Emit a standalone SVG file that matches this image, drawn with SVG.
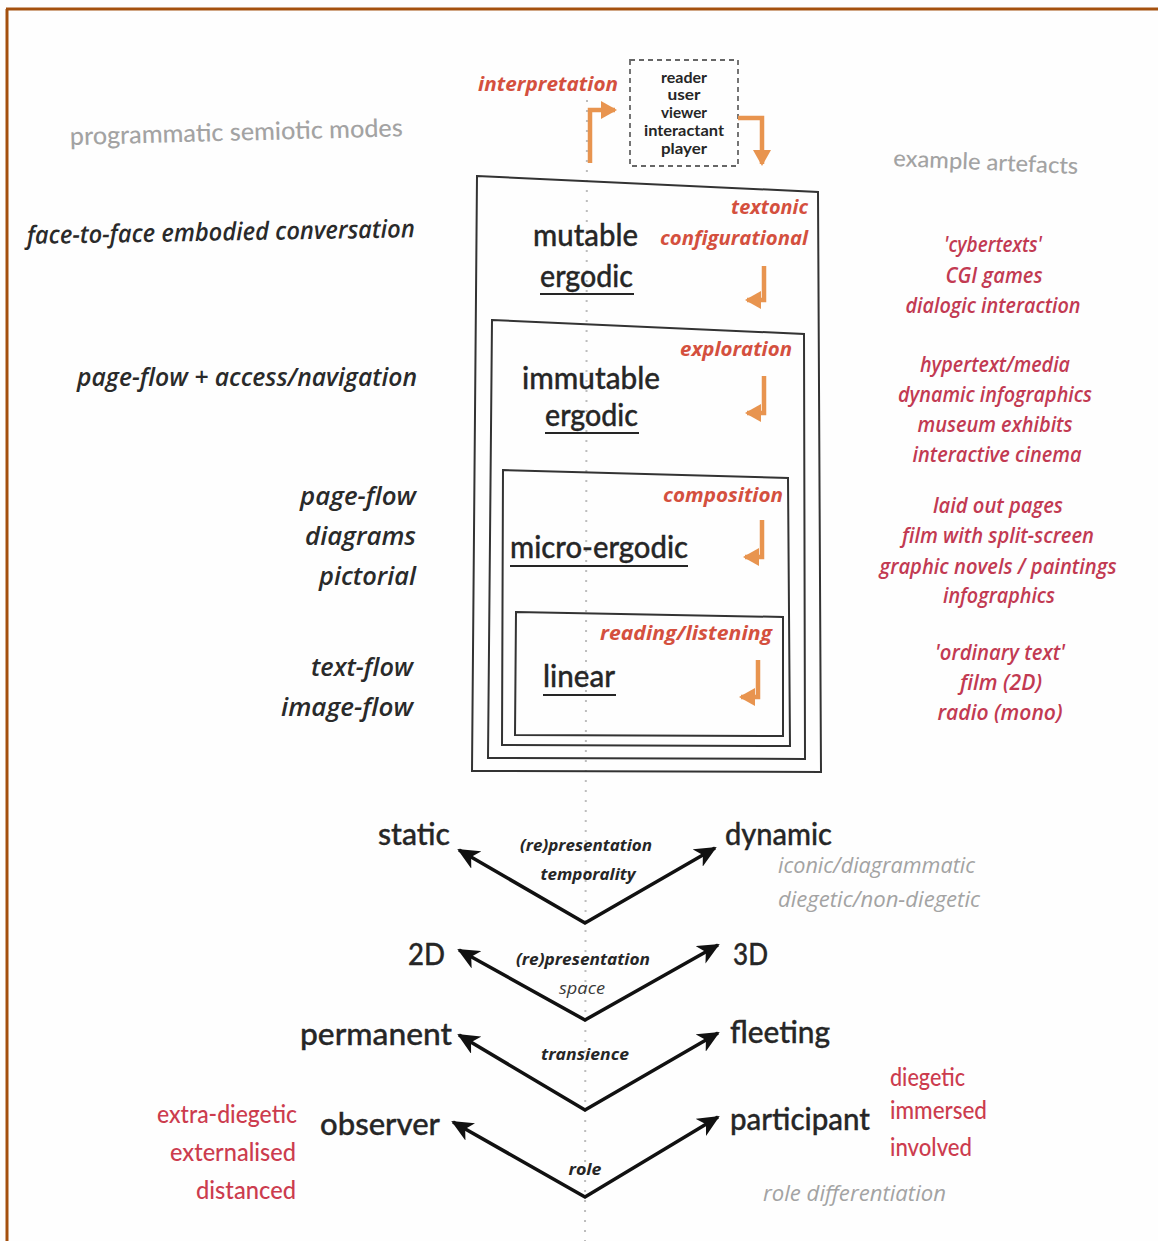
<svg xmlns="http://www.w3.org/2000/svg" width="1158" height="1241" viewBox="0 0 1158 1241">
  <defs>
    <style>
      .up { font-family: Lato, "Open Sans", "Liberation Sans", sans-serif; fill: #262626; font-weight: 500; }
      .big { font-size: 31px; stroke: #262626; stroke-width: 0.35; }
      .it { font-family: "Open Sans", "Noto Sans", "Liberation Sans", sans-serif; font-style: italic; }
      .lbl { fill: #2a2a2a; font-size: 25px; font-weight: 600; }
      .proc { fill: #d4503e; font-size: 20px; font-weight: bold; }
      .ex { fill: #c23a52; font-size: 21px; font-weight: 600; }
      .grey { fill: #a3a3a3; }
      .crim { fill: #cc3c4e; font-size: 24px; }
      .dim { font-size: 16px; font-weight: bold; fill: #262626; }
      .who { font-size: 16px; font-weight: bold; }
      .box { fill: none; stroke: #333; stroke-width: 2; }
      .ul { stroke: #262626; stroke-width: 2; }
      .orange { fill: none; stroke: #e8944f; stroke-width: 4.5; }
      .axis { fill: none; stroke: #111; stroke-width: 3.5; stroke-linejoin: miter; }
    </style>
    <marker id="head" markerUnits="userSpaceOnUse" markerWidth="22" markerHeight="20" viewBox="0 0 22 20" refX="20" refY="10" orient="auto-start-reverse">
      <path d="M0,0 L22,10 L0,20 L6,10 z" fill="#111"/>
    </marker>
    <marker id="ohead" markerUnits="userSpaceOnUse" markerWidth="16" markerHeight="18" viewBox="0 0 16 18" refX="14" refY="9" orient="auto">
      <path d="M0,0 L16,9 L0,18 z" fill="#e8944f"/>
    </marker>
  </defs>

  <rect width="1158" height="1241" fill="#fefefe"/>
  <!-- page frame -->
  <path d="M6,9 H1158 M7,9 V1241" fill="none" stroke="#a4500e" stroke-width="3"/>

  <!-- centre axis -->
  <line x1="587" y1="100" x2="585" y2="1241" stroke="#bdbdbd" stroke-width="2" stroke-dasharray="2 8"/>

  <!-- column headings -->
  <text class="up grey" x="70" y="145" font-size="25" textLength="333" lengthAdjust="spacingAndGlyphs" transform="rotate(-1.5 70 145)">programmatic semiotic modes</text>
  <text class="up grey" x="893" y="166" font-size="23" textLength="185" lengthAdjust="spacingAndGlyphs" transform="rotate(2.5 893 166)">example artefacts</text>

  <!-- interpreting role -->
  <g id="interpreter">
    <rect x="630" y="60" width="108" height="106" fill="none" stroke="#666" stroke-width="1.8" stroke-dasharray="5 4"/>
    <text class="up who" text-anchor="middle" x="684" y="83" textLength="46" lengthAdjust="spacingAndGlyphs">reader</text>
    <text class="up who" text-anchor="middle" x="684" y="100" textLength="33" lengthAdjust="spacingAndGlyphs">user</text>
    <text class="up who" text-anchor="middle" x="684" y="118" textLength="46" lengthAdjust="spacingAndGlyphs">viewer</text>
    <text class="up who" text-anchor="middle" x="684" y="136" textLength="80" lengthAdjust="spacingAndGlyphs">interactant</text>
    <text class="up who" text-anchor="middle" x="684" y="154" textLength="46" lengthAdjust="spacingAndGlyphs">player</text>
  </g>
  <text class="it proc" x="478" y="91" font-size="21" textLength="140" lengthAdjust="spacingAndGlyphs">interpretation</text>

  <!-- nested ergodic layers -->
  <g id="mutable-ergodic">
    <polygon class="box" points="477,176 818,192 821,772 472,771"/>
    <text class="it proc" x="808" y="214" text-anchor="end" textLength="77" lengthAdjust="spacingAndGlyphs">textonic</text>
    <text class="it proc" x="808" y="245" text-anchor="end" textLength="148" lengthAdjust="spacingAndGlyphs">configurational</text>
    <text class="up big" x="533" y="246" textLength="105" lengthAdjust="spacingAndGlyphs">mutable</text>
    <text class="up big" x="540" y="287" textLength="93" lengthAdjust="spacingAndGlyphs">ergodic</text>
    <line class="ul" x1="540" y1="294" x2="634" y2="294"/>
  </g>
  <g id="immutable-ergodic">
    <polygon class="box" points="492,320 804,334 805,759 488,758"/>
    <text class="it proc" x="792" y="356" text-anchor="end" textLength="112" lengthAdjust="spacingAndGlyphs">exploration</text>
    <text class="up big" x="522" y="389" textLength="138" lengthAdjust="spacingAndGlyphs">immutable</text>
    <text class="up big" x="545" y="426" textLength="93" lengthAdjust="spacingAndGlyphs">ergodic</text>
    <line class="ul" x1="545" y1="433" x2="639" y2="433"/>
  </g>
  <g id="micro-ergodic">
    <polygon class="box" points="503,470 788,478 790,746 502,745"/>
    <text class="it proc" x="783" y="502" text-anchor="end" textLength="120" lengthAdjust="spacingAndGlyphs">composition</text>
    <text class="up big" x="510" y="558" textLength="178" lengthAdjust="spacingAndGlyphs">micro-ergodic</text>
    <line class="ul" x1="510" y1="566" x2="688" y2="566"/>
  </g>
  <g id="linear">
    <polygon class="box" points="516,612 783,617 783,736 515,735"/>
    <text class="it proc" x="772" y="640" text-anchor="end" textLength="172" lengthAdjust="spacingAndGlyphs">reading/listening</text>
    <text class="up big" x="543" y="687" textLength="72" lengthAdjust="spacingAndGlyphs">linear</text>
    <line class="ul" x1="543" y1="695" x2="616" y2="695"/>
  </g>

  <!-- mode labels -->
  <g id="modes">
    <text class="it lbl" x="27" y="244" textLength="388" lengthAdjust="spacingAndGlyphs" transform="rotate(-1 27 244)">face-to-face embodied conversation</text>
    <text class="it lbl" x="417" y="386" text-anchor="end" textLength="340" lengthAdjust="spacingAndGlyphs">page-flow + access/navigation</text>
    <text class="it lbl" x="416" y="505" text-anchor="end" textLength="116" lengthAdjust="spacingAndGlyphs">page-flow</text>
    <text class="it lbl" x="416" y="545" text-anchor="end" textLength="111" lengthAdjust="spacingAndGlyphs">diagrams</text>
    <text class="it lbl" x="416" y="585" text-anchor="end" textLength="97" lengthAdjust="spacingAndGlyphs">pictorial</text>
    <text class="it lbl" x="413" y="676" text-anchor="end" textLength="102" lengthAdjust="spacingAndGlyphs">text-flow</text>
    <text class="it lbl" x="413" y="716" text-anchor="end" textLength="132" lengthAdjust="spacingAndGlyphs">image-flow</text>
  </g>

  <!-- example artefacts -->
  <g id="examples" text-anchor="middle">
    <text class="it ex" x="993" y="252" textLength="98" lengthAdjust="spacingAndGlyphs">'cybertexts'</text>
    <text class="it ex" x="994" y="283" textLength="97" lengthAdjust="spacingAndGlyphs">CGI games</text>
    <text class="it ex" x="993" y="313" textLength="175" lengthAdjust="spacingAndGlyphs">dialogic interaction</text>
    <text class="it ex" x="995" y="372" textLength="150" lengthAdjust="spacingAndGlyphs">hypertext/media</text>
    <text class="it ex" x="995" y="402" textLength="194" lengthAdjust="spacingAndGlyphs">dynamic infographics</text>
    <text class="it ex" x="995" y="432" textLength="155" lengthAdjust="spacingAndGlyphs">museum exhibits</text>
    <text class="it ex" x="997" y="462" textLength="169" lengthAdjust="spacingAndGlyphs">interactive cinema</text>
    <text class="it ex" x="998" y="513" textLength="130" lengthAdjust="spacingAndGlyphs">laid out pages</text>
    <text class="it ex" x="998" y="543" textLength="192" lengthAdjust="spacingAndGlyphs">film with split-screen</text>
    <text class="it ex" x="998" y="574" textLength="237" lengthAdjust="spacingAndGlyphs">graphic novels / paintings</text>
    <text class="it ex" x="999" y="603" textLength="112" lengthAdjust="spacingAndGlyphs">infographics</text>
    <text class="it ex" x="1000" y="660" textLength="130" lengthAdjust="spacingAndGlyphs">'ordinary text'</text>
    <text class="it ex" x="1001" y="690" textLength="82" lengthAdjust="spacingAndGlyphs">film (2D)</text>
    <text class="it ex" x="1000" y="720" textLength="125" lengthAdjust="spacingAndGlyphs">radio (mono)</text>
  </g>

  <!-- dimension poles -->
  <g id="temporality">
    <text class="up big" x="378" y="845" textLength="72" lengthAdjust="spacingAndGlyphs">static</text>
    <text class="up big" x="725" y="845" textLength="107" lengthAdjust="spacingAndGlyphs">dynamic</text>
    <text class="it dim" x="586" y="851" text-anchor="middle" textLength="132" lengthAdjust="spacingAndGlyphs">(re)presentation</text>
    <text class="it dim" x="588" y="880" text-anchor="middle" textLength="95" lengthAdjust="spacingAndGlyphs">temporality</text>
    <text class="it grey" x="778" y="873" font-size="21" textLength="197" lengthAdjust="spacingAndGlyphs">iconic/diagrammatic</text>
    <text class="it grey" x="778" y="907" font-size="21" textLength="202" lengthAdjust="spacingAndGlyphs">diegetic/non-diegetic</text>
  </g>
  <g id="space">
    <text class="up big" x="408" y="965" textLength="37" lengthAdjust="spacingAndGlyphs">2D</text>
    <text class="up big" x="733" y="965" textLength="35" lengthAdjust="spacingAndGlyphs">3D</text>
    <text class="it dim" x="583" y="965" text-anchor="middle" textLength="134" lengthAdjust="spacingAndGlyphs">(re)presentation</text>
    <text class="it" x="582" y="994" font-size="17" fill="#3a3a3a" text-anchor="middle" textLength="46" lengthAdjust="spacingAndGlyphs">space</text>
  </g>
  <g id="transience">
    <text class="up big" x="300" y="1045" textLength="152" lengthAdjust="spacingAndGlyphs">permanent</text>
    <text class="up big" x="730" y="1043" textLength="100" lengthAdjust="spacingAndGlyphs">fleeting</text>
    <text class="it dim" x="585" y="1060" text-anchor="middle" textLength="88" lengthAdjust="spacingAndGlyphs">transience</text>
  </g>
  <g id="role">
    <text class="up big" x="320" y="1135" textLength="120" lengthAdjust="spacingAndGlyphs">observer</text>
    <text class="up big" x="730" y="1130" textLength="140" lengthAdjust="spacingAndGlyphs">participant</text>
    <text class="it dim" x="585" y="1175" text-anchor="middle" textLength="33" lengthAdjust="spacingAndGlyphs">role</text>
    <text class="up crim" x="297" y="1123" text-anchor="end" textLength="140" lengthAdjust="spacingAndGlyphs">extra-diegetic</text>
    <text class="up crim" x="296" y="1161" text-anchor="end" textLength="126" lengthAdjust="spacingAndGlyphs">externalised</text>
    <text class="up crim" x="296" y="1199" text-anchor="end" textLength="100" lengthAdjust="spacingAndGlyphs">distanced</text>
    <text class="up crim" x="890" y="1086" textLength="75" lengthAdjust="spacingAndGlyphs">diegetic</text>
    <text class="up crim" x="890" y="1119" textLength="97" lengthAdjust="spacingAndGlyphs">immersed</text>
    <text class="up crim" x="890" y="1156" textLength="82" lengthAdjust="spacingAndGlyphs">involved</text>
    <text class="it grey" x="763" y="1201" font-size="21" textLength="183" lengthAdjust="spacingAndGlyphs">role differentiation</text>
  </g>

  <!-- connectors -->
  <g id="connectors">
    <path class="orange" d="M590,163 V110 H615" marker-end="url(#ohead)"/>
    <path class="orange" d="M738,118 H762 V164" marker-end="url(#ohead)"/>
    <path class="orange" d="M764,266 V300 H747" marker-end="url(#ohead)"/>
    <path class="orange" d="M764,376 V413 H747" marker-end="url(#ohead)"/>
    <path class="orange" d="M762,520 V557 H745" marker-end="url(#ohead)"/>
    <path class="orange" d="M758,660 V697 H741" marker-end="url(#ohead)"/>

    <path class="axis" d="M459,850 L585,923 L715,848" marker-start="url(#head)" marker-end="url(#head)"/>
    <path class="axis" d="M459,950 L585,1020 L718,945" marker-start="url(#head)" marker-end="url(#head)"/>
    <path class="axis" d="M459,1035 L585,1110 L718,1033" marker-start="url(#head)" marker-end="url(#head)"/>
    <path class="axis" d="M453,1122 L585,1197 L718,1117" marker-start="url(#head)" marker-end="url(#head)"/>
  </g>
</svg>
